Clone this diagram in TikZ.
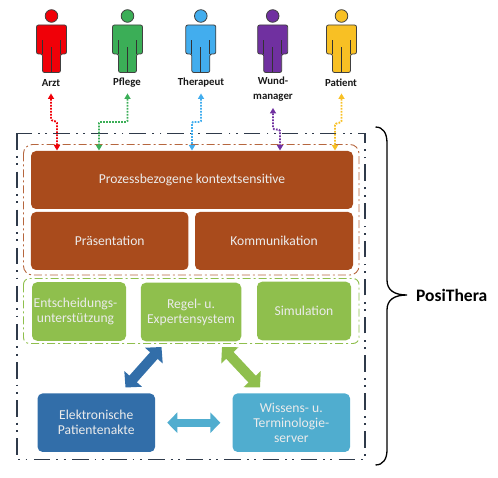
\documentclass[tikz,border=0pt]{standalone}
\usepackage{fontspec}
\setmainfont{Carlito}
\usetikzlibrary{arrows.meta}
\definecolor{brownbox}{HTML}{A94B1C}
\definecolor{greenbox}{HTML}{8FBF4D}
\definecolor{bluebox}{HTML}{326EA9}
\definecolor{cyanbox}{HTML}{50ADCF}
\definecolor{framecol}{HTML}{2F3A4A}
\definecolor{redp}{HTML}{F00008}
\definecolor{greenp}{HTML}{3BAE57}
\definecolor{bluep}{HTML}{42ADEE}
\definecolor{purplep}{HTML}{7030A0}
\definecolor{yellowp}{HTML}{F8C024}
\tikzset{
  x=1pt,y=-1pt,
  boxn/.style={rounded corners=5pt,inner sep=0pt,text=white!92!black,font=\fontsize{13.6}{14.8}\selectfont,align=center},
  personlabel/.style={font=\bfseries\fontsize{10.8}{15}\selectfont,align=center,text=black!90},
  linkarrow/.style={dash pattern=on 1.7pt off 1.3pt,line width=1.9pt,rounded corners=1pt,{Triangle[length=5.5pt,width=6.5pt,line width=0pt,sep=0pt]}-{Triangle[length=5.5pt,width=6.5pt,line width=0pt,sep=0pt]}},
  fatarrow/.style={line width=10pt,{Triangle[length=11.5pt,width=23pt]}-{Triangle[length=11.5pt,width=23pt]}},
  pics/person/.style={code={
    \fill[#1,draw=black!75,line width=.8pt] (0,-56.5) circle[radius=6.3];
    \path[fill=#1,draw=black!75,line width=.8pt,rounded corners=2pt]
      (-15,-47.5) -- (15,-47.5) -- (15,-18.5) -- (9,-18.5) -- (9,0) -- (-9,0) -- (-9,-18.5) -- (-15,-18.5) -- cycle;
    \draw[black!80,line width=.7pt] (-9,-32) -- (-9,-18.5) (9,-32) -- (9,-18.5) (0,-25) -- (0,0);
  }}
}
\begin{document}
\begin{tikzpicture}
\useasboundingbox (0,0) rectangle (498,478);
% persons
\pic at (51.5,72.5) {person=redp};
\pic at (127.5,72.5) {person=greenp};
\pic at (200.8,72.5) {person=bluep};
\pic at (272.7,72.5) {person=purplep};
\pic at (341.5,72.5) {person=yellowp};
\node[personlabel] (larzt) at (51,83) {Arzt};
\node[personlabel] (lpflege) at (127,83) {Pflege};
\node[personlabel] (ltherapeut) at (201,83) {Therapeut};
\node[personlabel] (lwund) at (273,89.5) {Wund-\\manager};
\node[personlabel] (lpatient) at (341,83) {Patient};
% frames
\draw[framecol,line width=1.8pt,dash pattern=on 16.5pt off 6pt on 1.8pt off 5.5pt on 1.8pt off 6.5pt] (17,133.5) rectangle (365,459.5);
\draw[brownbox!85!white,line width=.9pt,rounded corners=9pt,dash pattern=on 8pt off 3pt on 2pt off 3pt] (23.5,144.5) rectangle (359,275);
\draw[greenbox,line width=.9pt,rounded corners=6pt,dash pattern=on 8pt off 3pt on 2pt off 3pt] (23.5,278.5) rectangle (359,343.5);
% boxes
\node[boxn,fill=brownbox,minimum width=322pt,minimum height=58pt] (proz) at (192,180) {Prozessbezogene kontextsensitive};
\node[boxn,fill=brownbox,minimum width=157.5pt,minimum height=58pt] (praes) at (109.7,241) {Präsentation};
\node[boxn,fill=brownbox,minimum width=158pt,minimum height=58pt] (komm) at (274,241) {Kommunikation};
\node[boxn,fill=greenbox,minimum width=94pt,minimum height=58.5pt] (ent) at (79,311.5) {\hspace*{-7pt}Entscheidungs-\\\hspace*{-7pt}unterstützung};
\node[boxn,fill=greenbox,minimum width=100.5pt,minimum height=58.5pt] (regel) at (191,312) {Regel- u.\\Expertensystem};
\node[boxn,fill=greenbox,minimum width=94pt,minimum height=58.5pt] (sim) at (304,311) {Simulation};
\node[boxn,fill=bluebox,minimum width=117.5pt,minimum height=58.5pt] (epa) at (96.3,422.7) {Elektronische\\Patientenakte};
\node[boxn,fill=cyanbox,minimum width=117.5pt,minimum height=58.5pt] (wiss) at (291.3,422.7) {Wissens- u.\\Terminologie-\\server};
% fat arrows
\coordinate (b1) at (161.5,347);
\coordinate (b2) at (125.5,387.5);
\coordinate (g1) at (222,347);
\coordinate (g2) at (260,387.5);
\draw[fatarrow,bluebox] (b1) -- (b2);
\draw[fatarrow,greenbox] (g1) -- (g2);
\draw[cyanbox,line width=8pt,{Triangle[length=10pt,width=20pt]}-{Triangle[length=10pt,width=20pt]}] (epa.east)++(12,0) -- ([xshift=-12pt]wiss.west);
% dotted link arrows
\coordinate (a1) at (51,93.5); \coordinate (a2) at (57,150.5);
\coordinate (p1) at (127.5,93.5); \coordinate (p2) at (99,150.5);
\coordinate (t1) at (201,93.5); \coordinate (t2) at (192,150.5);
\coordinate (w1) at (273,108); \coordinate (w2) at (280,150.5);
\coordinate (y1) at (341.5,93.5); \coordinate (y2) at (335,150.5);
\draw[linkarrow,redp] (a1) -- (51,120) -- (57,122) -- (a2);
\draw[linkarrow,greenp] (p1) -- (127.5,122) -- (99,122) -- (p2);
\draw[linkarrow,bluep] (t1) -- (201,122) -- (192,122) -- (t2);
\draw[linkarrow,purplep] (w1) -- (273,129) -- (280,130) -- (w2);
\draw[linkarrow,yellowp] (y1) -- (341.5,122) -- (335,124) -- (y2);
% brace
\coordinate (bt) at (375.5,127);
\coordinate (bb) at (375.5,465);
\coordinate (bm) at (407,295);
\draw[black,line width=1.3pt] (bt) .. controls (383,127) and (387,133) .. (387,143) -- (387,280) .. controls (387,290) and (394,295) .. (bm) .. controls (394,295) and (387,300) .. (387,310) -- (387,450) .. controls (387,459) and (383,465) .. (bb);
\node[font=\bfseries\fontsize{17.5}{19}\selectfont,anchor=west,inner sep=0pt] (posi) at (416,295.5) {PosiThera};
\end{tikzpicture}
\end{document}
